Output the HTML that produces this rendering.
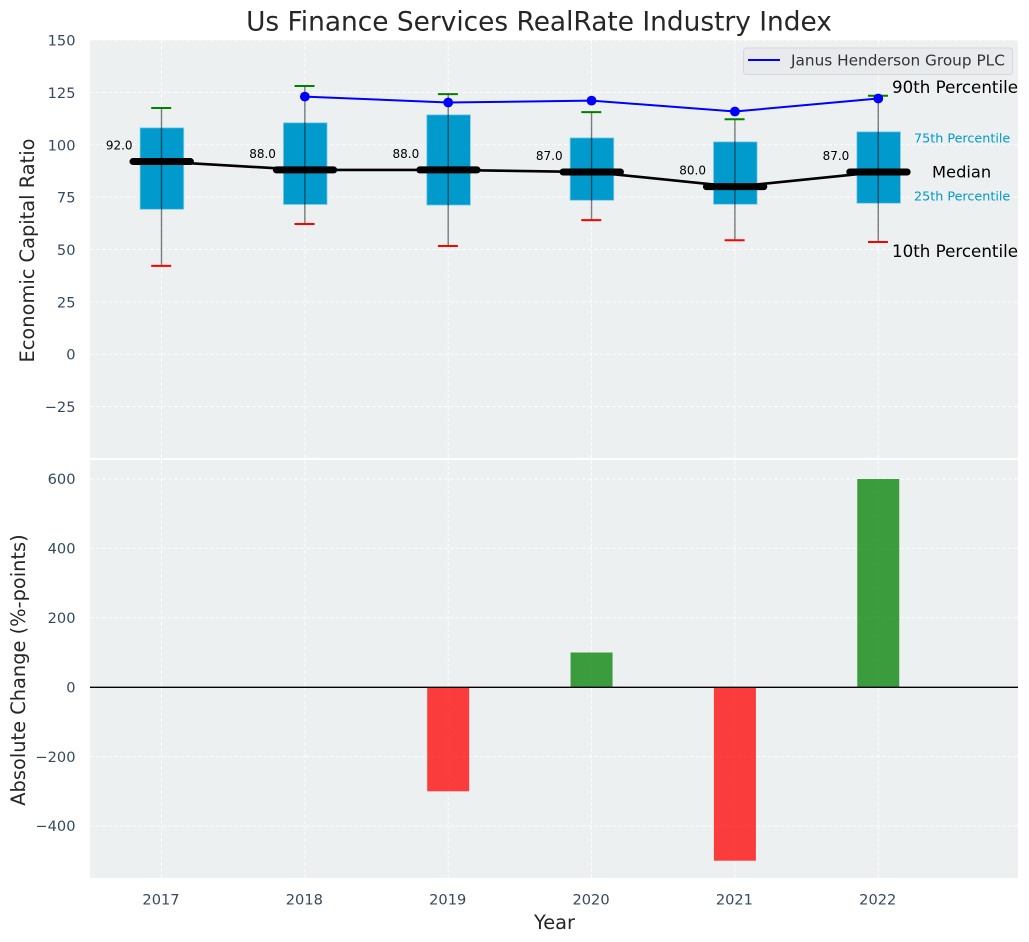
<!DOCTYPE html>
<html>
<head>
<meta charset="utf-8">
<title>Us Finance Services RealRate Industry Index</title>
<style>
html,body{margin:0;padding:0;background:#fff;}
svg{display:block;font-family:"DejaVu Sans","Liberation Sans",sans-serif;}
</style>
</head>
<body>
<svg id="chart" xmlns="http://www.w3.org/2000/svg" width="1029" height="942" viewBox="0 0 1029 942">
  <text x="539" y="30.5" font-size="26.4" fill="#262626" text-anchor="middle">Us Finance Services RealRate Industry Index</text>
  <rect x="90" y="40" width="928" height="418" fill="#ecf0f1"/>
  <rect x="90" y="460" width="928" height="418" fill="#ecf0f1"/>
  <g id="top-grid"></g>
  <g id="bottom-grid"></g>
  <g id="boxes"></g>
  <g id="lines"></g>
  <g id="bars"></g>
  <g id="ticks"></g>
  <text transform="translate(34,250.5) rotate(-90)" font-size="19.4" fill="#262626" text-anchor="middle">Economic Capital Ratio</text>
  <text transform="translate(25,670) rotate(-90)" font-size="19.4" fill="#262626" text-anchor="middle">Absolute Change (%-points)</text>
  <text x="554.5" y="929" font-size="19.4" fill="#262626" text-anchor="middle">Year</text>
  <g>
    <rect x="743.5" y="48" width="269" height="26.5" rx="3" fill="#e8eaee" stroke="#d6d8dc" stroke-width="1"/>
    <line x1="748" x2="780" y1="60" y2="60" stroke="#0000ff" stroke-width="2"/>
    <text x="791" y="65.5" font-size="15.3" fill="#333333">Janus Henderson Group PLC</text>
  </g>
  <g>
    <text x="892" y="93" font-size="16.7" fill="#000">90th Percentile</text>
    <text x="914" y="142.5" font-size="12.75" fill="#0099cc">75th Percentile</text>
    <text x="932" y="177.5" font-size="16.3" fill="#000">Median</text>
    <text x="914" y="200.5" font-size="12.75" fill="#0099cc">25th Percentile</text>
    <text x="892" y="257" font-size="16.7" fill="#000">10th Percentile</text>
  </g>
</svg>
<script>
const years = [2017, 2018, 2019, 2020, 2021, 2022];
const p10 = [42.2, 62.2, 51.7, 64, 54.4, 53.6];
const p25 = [69.2, 71.5, 71.2, 73.5, 71.6, 72.1];
const medians = [92, 88, 88, 87, 80, 87];
const p75 = [108.1, 110.5, 114.3, 103.3, 101.4, 106.2];
const p90 = [117.6, 128.1, 124.2, 115.6, 112.2, 123.4];
const companyValues = [null, 123, 120.2, 121.1, 115.9, 122.1];
const changes = [0, 0, -300, 100, -500, 600];
const topTicks = [150, 125, 100, 75, 50, 25, 0, -25];
const bottomTicks = [600, 400, 200, 0, -200, -400];

const NS = 'http://www.w3.org/2000/svg';
const xPos = v => 161.5 + (v - 2017) * 143.35;
const yTop = v => 354.2 - v * 2.094;
const yBottom = v => 687.2 - v * 0.347;
const fmtTick = v => (v < 0 ? '\u2212' + Math.abs(v) : String(v));

function make(tag, parent, props, text) {
  const el = document.createElementNS(NS, tag);
  for (const k in props) el.setAttribute(k, props[k]);
  if (text !== undefined) el.textContent = text;
  document.getElementById(parent).appendChild(el);
  return el;
}
const gridStyle = {stroke: '#ffffff', 'stroke-width': 1, 'stroke-dasharray': '4 2', 'stroke-opacity': 0.85};

topTicks.forEach(t => {
  const line = make('line', 'top-grid', Object.assign({x1: 90, x2: 1018, y1: yTop(t), y2: yTop(t)}, gridStyle));
  
  
  const label = make('text', 'ticks', {x: 75.5, y: yTop(t) + 5.5, 'font-size': 14.6, fill: '#34495e', 'text-anchor': 'end'}, fmtTick(t));
  
  
});
bottomTicks.forEach(t => {
  const line = make('line', 'bottom-grid', Object.assign({x1: 90, x2: 1018, y1: yBottom(t), y2: yBottom(t)}, gridStyle));
  
  
  const label = make('text', 'ticks', {x: 75.5, y: yBottom(t) + 5.2, 'font-size': 14.6, fill: '#34495e', 'text-anchor': 'end'}, fmtTick(t));
  
  
});
years.forEach(y => {
  const x = xPos(y);
  const lineA = make('line', 'top-grid', Object.assign({x1: x, x2: x, y1: 40, y2: 458}, gridStyle));
  
  
  const lineB = make('line', 'bottom-grid', Object.assign({x1: x, x2: x, y1: 460, y2: 878}, gridStyle));
  
  
  const label = make('text', 'ticks', {x: x - 0.5, y: 904.5, 'font-size': 14.6, fill: '#34495e', 'text-anchor': 'middle'}, String(y));
  
  
});

years.forEach((y, i) => {
  const x = xPos(y);
  const box = make('rect', 'boxes', {x: x - 21.4, y: yTop(p75[i]), width: 43.6, height: yTop(p25[i]) - yTop(p75[i]), fill: '#009acd', stroke: '#7fcbe3', 'stroke-width': 0.8});
  
  
  const whisker = make('line', 'boxes', {x1: x, x2: x, y1: yTop(p10[i]), y2: yTop(p90[i]), stroke: '#000', 'stroke-opacity': 0.5, 'stroke-width': 1.4});
  
  
  const capHigh = make('line', 'boxes', {x1: x - 10.3, x2: x + 9.7, y1: yTop(p90[i]), y2: yTop(p90[i]), stroke: '#008000', 'stroke-width': 2});
  
  
  const capLow = make('line', 'boxes', {x1: x - 10.3, x2: x + 9.7, y1: yTop(p10[i]), y2: yTop(p10[i]), stroke: '#ff0000', 'stroke-width': 2});
  
  
});

const medianPath = make('polyline', 'lines', {points: years.map((y, i) => xPos(y) + ',' + yTop(medians[i])).join(' '), fill: 'none', stroke: '#000', 'stroke-width': 2.6});



years.forEach((y, i) => {
  const x = xPos(y);
  const mark = make('line', 'lines', {x1: x - 28.5, x2: x + 28.9, y1: yTop(medians[i]), y2: yTop(medians[i]), stroke: '#000', 'stroke-width': 7, 'stroke-linecap': 'round'});
  
  
  const label = make('text', 'lines', {x: x - 42.3, y: yTop(medians[i]) - 12, 'font-size': 12, fill: '#000', 'text-anchor': 'middle'}, medians[i].toFixed(1));
  
  
});

const companyPts = years.map((y, i) => companyValues[i] === null ? null : [xPos(y), yTop(companyValues[i])]).filter(Boolean);
const companyPath = make('polyline', 'lines', {points: companyPts.map(p => p.join(',')).join(' '), fill: 'none', stroke: '#0000ff', 'stroke-width': 2});


companyPts.forEach(p => {
  const dot = make('circle', 'lines', {cx: p[0], cy: p[1], r: 4.9, fill: '#0000ff'});
  
  
});

years.forEach((y, i) => {
  const v = changes[i];
  if (!v) return;
  const top = Math.min(yBottom(v), yBottom(0));
  const bar = make('rect', 'bars', {x: xPos(y) - 21, y: top, width: 42, height: Math.abs(yBottom(v) - yBottom(0)), fill: v > 0 ? '#008000' : '#ff0000', 'fill-opacity': 0.75});
  
  
});
const zero = make('line', 'bars', {x1: 90, x2: 1018, y1: yBottom(0) + 0.1, y2: yBottom(0) + 0.1, stroke: '#000', 'stroke-width': 1.3});


</script>
</body>
</html>
